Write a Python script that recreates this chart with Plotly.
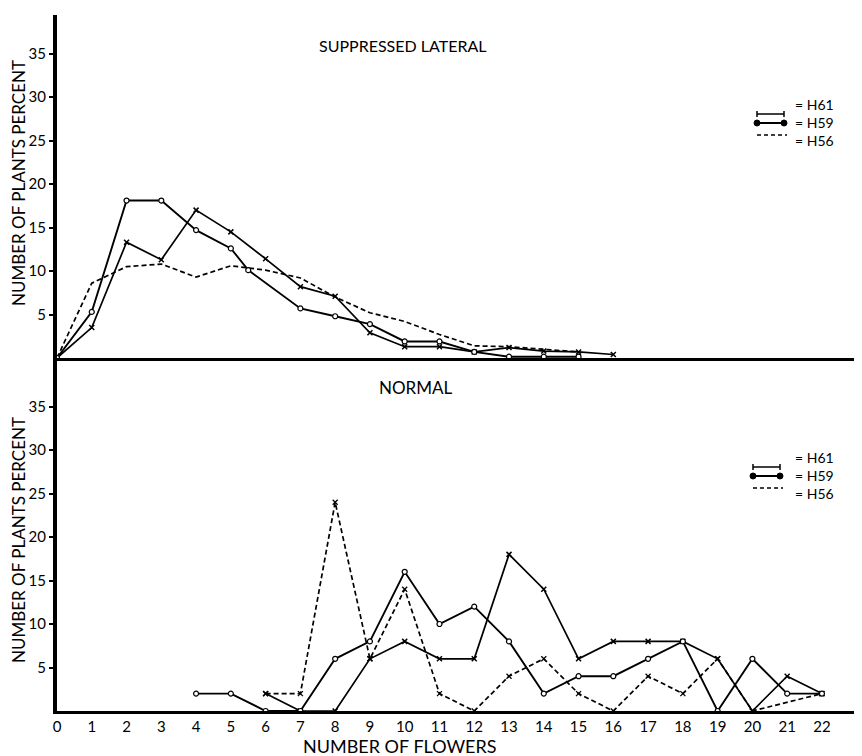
import plotly.graph_objects as go

# ---------------- data ----------------
# Top panel: SUPPRESSED LATERAL
top_h61_x = list(range(0, 17))
top_h61_y = [0, 3.5, 13.3, 11.3, 17.0, 14.5, 11.4, 8.2, 7.1, 2.9, 1.3, 1.3, 0.7, 1.2, 0.8, 0.7, 0.4]
top_h59_x = [0, 1, 2, 3, 4, 5, 5.5, 7, 8, 9, 10, 11, 12, 13, 14, 15]
top_h59_y = [0, 5.3, 18.1, 18.1, 14.7, 12.6, 10.1, 5.7, 4.8, 3.9, 1.9, 1.9, 0.7, 0.15, 0.15, 0.15]
top_h56_x = list(range(0, 16))
top_h56_y = [0, 8.6, 10.5, 10.8, 9.3, 10.6, 10.1, 9.2, 7.0, 5.2, 4.2, 2.7, 1.4, 1.3, 1.0, 0.7]

# Bottom panel: NORMAL
bot_h61_x = list(range(6, 23))
bot_h61_y = [2, 0, 0, 6, 8, 6, 6, 18, 14, 6, 8, 8, 8, 6, 0, 4, 2]
bot_h59_x = list(range(4, 23))
bot_h59_y = [2, 2, 0, 0, 6, 8, 16, 10, 12, 8, 2, 4, 4, 6, 8, 0, 6, 2, 2]
bot_h56_x = [6, 7, 8, 9, 10, 11, 12, 13, 14, 15, 16, 17, 18, 19, 20, 22]
bot_h56_y = [2, 2, 24, 6, 14, 2, 0, 4, 6, 2, 0, 4, 2, 6, 0, 2]

x_ticks = list(range(0, 23))
y_ticks = [5, 10, 15, 20, 25, 30, 35]
series_names = ["H61", "H59", "H56"]

# ---------------- geometry helpers (screen pixels, page has 8px body margin) ----------------
W, H = 862, 756
OFF = 8
PL, PT, PR, PB = 57, 15, 862, 711          # plot area in screen pixels
ML, MT = PL - OFF, PT - OFF
MB = H - (PB - OFF)
MR = W - (PR - OFF)
PW, PH = PR - PL, PB - PT
def px(x):
    return (x - PL) / PW
def py(y):
    return (PB - y) / PH

split = py(358)
FONT = "Lato"

fig = go.Figure()

def h61_trace(x, y, xa, ya):
    return go.Scatter(x=x, y=y, xaxis=xa, yaxis=ya, mode="lines+markers",
                      line=dict(color="black", width=1.7),
                      marker=dict(symbol="x-thin", size=5, line=dict(color="black", width=1.5)),
                      showlegend=False, name="H61")

def h59_trace(x, y, xa, ya):
    return go.Scatter(x=x, y=y, xaxis=xa, yaxis=ya, mode="lines+markers",
                      line=dict(color="black", width=1.9),
                      marker=dict(symbol="circle", size=5, color="white",
                                  line=dict(color="black", width=1.2)),
                      showlegend=False, name="H59")

def h56_trace(x, y, xa, ya, markers):
    return go.Scatter(x=x, y=y, xaxis=xa, yaxis=ya,
                      mode="lines+markers" if markers else "lines",
                      line=dict(color="black", width=1.7, dash="5px,3px"),
                      marker=dict(symbol="x-thin", size=5, line=dict(color="black", width=1.3)),
                      showlegend=False, name="H56")

fig.add_trace(h56_trace(top_h56_x, top_h56_y, "x", "y", False))
fig.add_trace(h61_trace(top_h61_x, top_h61_y, "x", "y"))
fig.add_trace(h59_trace(top_h59_x, top_h59_y, "x", "y"))
fig.add_trace(h56_trace(bot_h56_x, bot_h56_y, "x2", "y2", True))
fig.add_trace(h61_trace(bot_h61_x, bot_h61_y, "x2", "y2"))
fig.add_trace(h59_trace(bot_h59_x, bot_h59_y, "x2", "y2"))

xr = [0, PW / 34.77]
common_y = dict(tickvals=y_ticks, ticks="outside", ticklen=4, tickwidth=1.5, tickcolor="black",
                showline=True, linewidth=4, linecolor="black", showgrid=False, zeroline=False,
                tickfont=dict(family=FONT, size=15, color="black"))
fig.update_layout(
    width=W, height=H,
    margin=dict(l=ML, r=MR, t=MT, b=MB),
    paper_bgcolor="white", plot_bgcolor="white",
    font=dict(family=FONT, color="black"),
    xaxis=dict(domain=[0, 1], range=xr, anchor="y", showline=True, linewidth=3, linecolor="black",
               showticklabels=False, ticks="", showgrid=False, zeroline=False),
    yaxis=dict(domain=[split, 1], range=[0, (358 - PT) / 8.7], anchor="x", **common_y),
    xaxis2=dict(domain=[0, 1], range=xr, anchor="y2", showline=True, linewidth=3, linecolor="black",
                tickvals=x_ticks, ticks="", showgrid=False, zeroline=False,
                tickfont=dict(family=FONT, size=15, color="black")),
    yaxis2=dict(domain=[0, split], range=[0, (PB - 358) / 8.7], anchor="x2", **common_y),
)

ann = []
def add_text(text, x, y, size, angle=0, xanchor="center"):
    ann.append(dict(text=text, x=px(x), y=py(y), xref="paper", yref="paper", showarrow=False,
                    textangle=angle, xanchor=xanchor, yanchor="middle", align="left",
                    font=dict(family=FONT, size=size, color="black")))

add_text("NUMBER OF PLANTS PERCENT", 18, 183, 17, -90)
add_text("NUMBER OF PLANTS PERCENT", 18, 540, 17, -90)
add_text("SUPPRESSED LATERAL", 402, 45, 16)
add_text("NORMAL", 416, 387, 17)
add_text("NUMBER OF FLOWERS", 400, 746, 18)

shapes = []
def legend_block(y_mid, sample_rows, x0, x1):
    add_text("<br>".join("= " + n for n in series_names), 793, y_mid, 14, xanchor="left")
    # H61 sample: line with end bars
    ys = sample_rows[0]
    shapes.append(dict(type="line", xref="paper", yref="paper", x0=px(x0), x1=px(x1),
                       y0=py(ys), y1=py(ys), line=dict(color="black", width=1.5)))
    for xe in (x0, x1):
        shapes.append(dict(type="line", xref="paper", yref="paper", x0=px(xe), x1=px(xe),
                           y0=py(ys - 3), y1=py(ys + 3), line=dict(color="black", width=1.5)))
    # H59 sample: line with filled circles
    ys = sample_rows[1]
    shapes.append(dict(type="line", xref="paper", yref="paper", x0=px(x0), x1=px(x1),
                       y0=py(ys), y1=py(ys), line=dict(color="black", width=2)))
    for xe in (x0, x1):
        shapes.append(dict(type="circle", xref="paper", yref="paper",
                           xsizemode="pixel", ysizemode="pixel", xanchor=px(xe), yanchor=py(ys),
                           x0=-3, x1=3, y0=-3, y1=3, fillcolor="black",
                           line=dict(color="black", width=1)))
    # H56 sample: dashed
    ys = sample_rows[2]
    shapes.append(dict(type="line", xref="paper", yref="paper", x0=px(x0), x1=px(x1 + 3),
                       y0=py(ys), y1=py(ys), line=dict(color="black", width=1.6, dash="4px,3px")))

legend_block(122, [114, 123, 135], 757, 784)
legend_block(475, [467, 476, 488], 753, 780)

fig.update_layout(annotations=ann, shapes=shapes)
fig.write_html("out.html")
